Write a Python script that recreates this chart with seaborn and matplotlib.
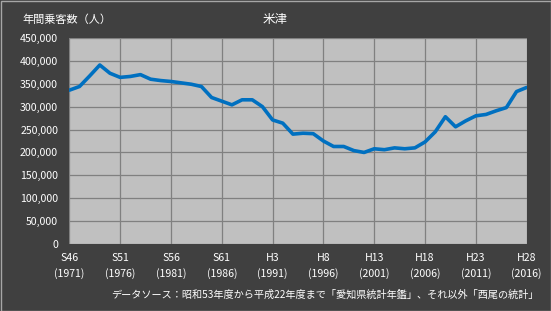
import matplotlib
matplotlib.use("Agg")
import matplotlib.pyplot as plt
import seaborn as sns
import pandas as pd
from matplotlib.patches import Rectangle
from matplotlib.ticker import FuncFormatter

years = list(range(1971, 2017))
passengers = [
    336000, 344000, 367000, 391000, 373000, 364000, 366000, 370000, 360000, 357000,
    355000, 352000, 349000, 344000, 320000, 312000, 304000, 315000, 315000, 300000,
    271000, 264000, 240000, 242000, 241000, 225000, 213000, 213000, 204000, 200000,
    208000, 206000, 210000, 208000, 210000, 223000, 245000, 278000, 256000, 269000,
    280000, 283000, 291000, 298000, 333000, 342000,
]
tick_years = [1971, 1976, 1981, 1986, 1991, 1996, 2001, 2006, 2011, 2016]
era_labels = ["S46", "S51", "S56", "S61", "H3", "H8", "H13", "H18", "H23", "H28"]
y_ticks = [0, 50000, 100000, 150000, 200000, 250000, 300000, 350000, 400000, 450000]

title_text = "年間乗客数（人）"
station_name = "米津"
source_text = "データソース：昭和53年度から平成22年度まで「愛知県統計年鑑」、それ以外「西尾の統計」"

df = pd.DataFrame({"year": years, "passengers": passengers})

sns.set_theme(style="white")
plt.rcParams["font.family"] = ["Noto Sans CJK JP", "DejaVu Sans"]

W, H = 551, 311
fig = plt.figure(figsize=(W / 100, H / 100), dpi=100, facecolor="#404040")
ax = fig.add_axes([69.3 / W, 1 - 244 / H, (526.7 - 69.3) / W, (244 - 38) / H])
ax.set_facecolor("#c0c0c0")

sns.lineplot(data=df, x="year", y="passengers", ax=ax, color="#0070c0",
             linewidth=2.6, zorder=3)

ax.set_xlim(1971, 2016)
ax.set_ylim(0, 450000)
ax.set_xticks(tick_years)
ax.set_xticklabels([f"{e}\n({y})" for e, y in zip(era_labels, tick_years)],
                   linespacing=1.55)
ax.set_yticks(y_ticks)
ax.yaxis.set_major_formatter(FuncFormatter(lambda v, p: f"{int(v):,}"))
ax.tick_params(axis="both", length=0, colors="white", labelsize=7.6)
ax.tick_params(axis="y", pad=8)
ax.tick_params(axis="x", pad=6.5)
ax.grid(True, color="#808080", linewidth=0.9)
ax.set_axisbelow(True)
for s in ax.spines.values():
    s.set_visible(False)
ax.set_xlabel("")
ax.set_ylabel("")

fig.text(22 / W, 1 - 19.5 / H, title_text, color="white", fontsize=8,
         ha="left", va="center")
fig.text(275.5 / W, 1 - 20 / H, station_name, color="white", fontsize=9,
         ha="center", va="center")
fig.text(539 / W, 1 - 295 / H, source_text, color="white", fontsize=7.3,
         ha="right", va="center")

fig.patches.append(Rectangle((0.5 / W, 0.5 / H), 1 - 1 / W, 1 - 1 / H,
                             transform=fig.transFigure, fill=False,
                             edgecolor="#a6a6a6", linewidth=1.0))

fig.savefig("out.png", dpi=100, facecolor=fig.get_facecolor())
